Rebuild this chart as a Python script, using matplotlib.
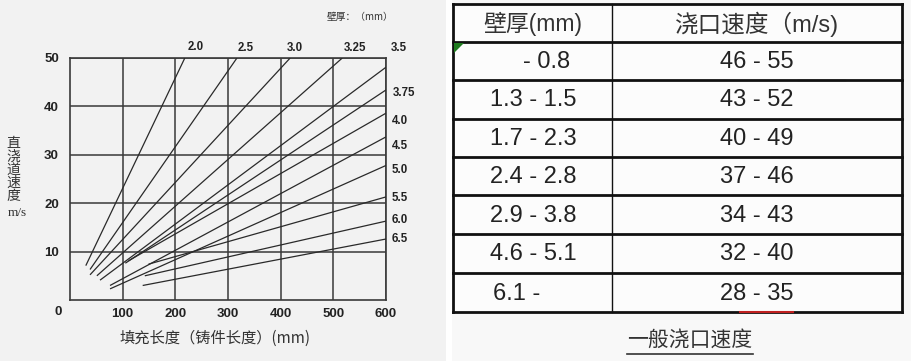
import matplotlib
matplotlib.use("Agg")
import matplotlib.pyplot as plt
from matplotlib import font_manager as fm
from matplotlib.patches import Rectangle, Polygon

# ---------------- data ----------------
thickness = ['2.0', '2.5', '3.0', '3.25', '3.5', '3.75', '4.0', '4.5', '5.0', '5.5', '6.0', '6.5']
start_len = [30, 38, 38, 51, 57, 105, 111, 76, 76, 149, 142, 138]
start_vel = [7.1, 6.3, 5.2, 5.0, 4.1, 7.6, 8.1, 3.0, 2.3, 7.4, 5.0, 3.0]
end_len = [218, 317, 418, 517, 600, 600, 600, 600, 600, 600, 600, 600]
end_vel = [50, 50, 50, 50, 48.1, 43.4, 38.6, 33.7, 27.8, 21.3, 16.3, 12.6]

x_ticks = [100, 200, 300, 400, 500, 600]
y_ticks = [10, 20, 30, 40, 50]

table_header = ['壁厚(mm)', '浇口速度（m/s)']
wall_ranges = ['- 0.8', '1.3 - 1.5', '1.7 - 2.3', '2.4 - 2.8', '2.9 - 3.8', '4.6 - 5.1', '6.1 -']
gate_speeds = ['46 - 55', '43 - 52', '40 - 49', '37 - 46', '34 - 43', '32 - 40', '28 - 35']

# ---------------- fonts ----------------
avail = {f.name for f in fm.fontManager.ttflist}
narrow = 'Liberation Sans Narrow' if 'Liberation Sans Narrow' in avail else 'Liberation Sans'
CJK = 'Noto Sans CJK SC'
plt.rcParams['font.family'] = ['Liberation Sans', CJK, 'DejaVu Sans']

W, H = 911, 361
fig = plt.figure(figsize=(W / 100, H / 100), dpi=100)
fig.patch.set_facecolor('#f8f8f8')

# overlay axes in pixel coordinates (background panels, texts, table)
ov = fig.add_axes([0, 0, 1, 1], zorder=0)
ov.set_xlim(0, W)
ov.set_ylim(H, 0)
ov.axis('off')
ov.add_patch(Rectangle((0, 0), 446, H, facecolor='#f2f2f2', edgecolor='none', zorder=0))
ov.add_patch(Rectangle((446, 0), 6, H, facecolor='#ffffff', edgecolor='none', zorder=0))

# chart axes (pixel box: left 70, right 386, top 58, bottom 300)
L, R, T, B = 70, 386, 58, 300
ax = fig.add_axes([L / W, 1 - B / H, (R - L) / W, (B - T) / H], zorder=1)
ax.set_facecolor('#f2f2f2')
ax.set_xlim(0, 600)
ax.set_ylim(0, 50)
ax.set_xticks(x_ticks)
ax.set_yticks(y_ticks)
ax.set_xticklabels([str(v) for v in x_ticks], fontsize=9.5, fontweight='bold', color='#222')
ax.set_yticklabels([str(v) for v in y_ticks], fontsize=9.5, fontweight='bold', color='#222')
ax.tick_params(length=0, pad=8)
ax.tick_params(axis='x', pad=6)
ax.grid(True, color='#3a3a3a', lw=1.1)
for s in ax.spines.values():
    s.set_color('#3a3a3a')
    s.set_linewidth(1.2)

for x0, y0, x1, y1 in zip(start_len, start_vel, end_len, end_vel):
    ax.plot([x0, x1], [y0, y1], color='#2a2a2a', lw=0.9, solid_capstyle='butt', zorder=3)

# texts on top of everything
tx = fig.add_axes([0, 0, 1, 1], zorder=2)
tx.set_xlim(0, W)
tx.set_ylim(H, 0)
tx.axis('off')
tx.patch.set_visible(False)

tx.text(58, 312, '0', fontsize=9.5, fontweight='bold', color='#222', ha='center', va='center')

label_pos = [(196, 47), (246, 48), (295, 48), (355, 48), (399, 48),
             (404, 93), (400, 121), (400, 146), (400, 170), (400, 198), (400, 220), (400, 239)]
for lab, (px, py) in zip(thickness, label_pos):
    tx.text(px, py, lab, fontsize=8.3, fontweight='bold', color='#222', ha='center', va='center')

tx.text(360, 17, '壁厚：（mm）', fontsize=7, color='#333', ha='center', va='center',
        family=[CJK, 'DejaVu Sans'])

for i, ch in enumerate('直浇道速度'):
    tx.text(13, 143 + i * 13.3, ch, fontsize=10, color='#333', ha='center', va='center',
            family=[CJK, 'DejaVu Sans'])
tx.text(17, 213, 'm/s', fontsize=9.5, color='#333', ha='center', va='center', family='Liberation Serif')

tx.text(215, 338, '填充长度（铸件长度）(mm)', fontsize=11, color='#333', ha='center', va='center',
        family=[CJK, 'DejaVu Sans'])

# ---------------- table ----------------
tl, tr = 453, 902
col = 612
row_y = [4, 42, 80, 119, 157, 195, 234, 273, 312]
tx.add_patch(Rectangle((tl, row_y[0]), tr - tl, row_y[-1] - row_y[0], facecolor='#fcfcfc',
                       edgecolor='none', zorder=1))
for y in row_y:
    tx.plot([tl, tr], [y, y], color='#111', lw=2.0, zorder=3, solid_capstyle='projecting')
tx.plot([tl, tl], [row_y[0], row_y[-1]], color='#111', lw=2.0, zorder=3)
tx.plot([tr, tr], [row_y[0], row_y[-1]], color='#111', lw=2.0, zorder=3)
tx.plot([col, col], [row_y[0], row_y[-1]], color='#111', lw=1.0, zorder=3)

tfam = [narrow, CJK, 'DejaVu Sans']
tx.text(533, 24, table_header[0], fontsize=16.5, color='#333', ha='center', va='center', family=tfam)
tx.text(757, 24, table_header[1], fontsize=17, color='#333', ha='center', va='center', family=tfam)
first_col_x = [523, 490, 490, 490, 490, 490, 493]
for i, (a, b) in enumerate(zip(wall_ranges, gate_speeds)):
    yc = (row_y[i + 1] + row_y[i + 2]) / 2 + 1
    tx.text(first_col_x[i], yc, a, fontsize=17, color='#222', ha='left', va='center', family=tfam)
    tx.text(757, yc, b, fontsize=17, color='#222', ha='center', va='center', family=tfam)

# small marks present in the reference
tx.add_patch(Polygon([[454, 43], [464, 43], [454, 53]], closed=True, facecolor='#1e7a1e',
                     edgecolor='none', zorder=4))
tx.plot([798, 845], [80, 80], color='#777', lw=1.0, zorder=2)
tx.plot([740, 793], [312, 312], color='#c02020', lw=1.5, zorder=4)

# caption
tx.text(690, 340, '一般浇口速度', fontsize=15, color='#333', ha='center', va='center',
        family=[CJK, 'DejaVu Sans'])
tx.plot([627, 753], [354, 354], color='#333', lw=1.2)

fig.savefig('out.png', dpi=100, facecolor=fig.get_facecolor())
